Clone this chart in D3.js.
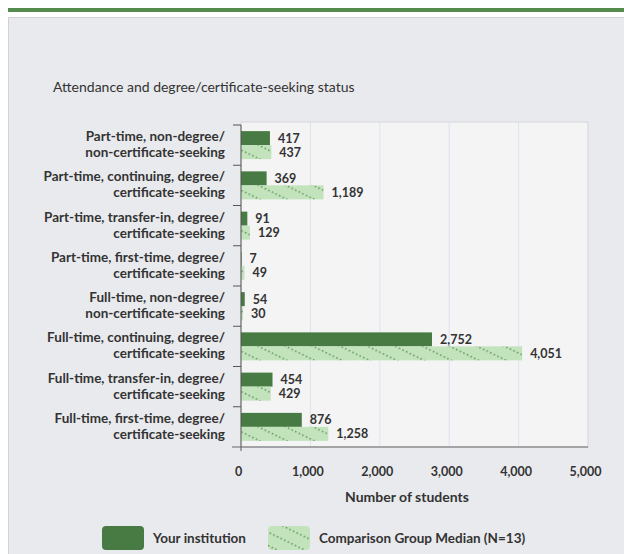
<!DOCTYPE html>
<html>
<head>
<meta charset="utf-8">
<script src="https://cdn.jsdelivr.net/npm/d3@7"></script>
<style>
  body { margin: 0; background: #fff; }
  svg text { font-family: Lato, "Open Sans", sans-serif; fill: #333; }
</style>
</head>
<body>
<svg width="624" height="554"></svg>
<script>
const categories = [
    ['Part-time, non-degree/', 'non-certificate-seeking'],
    ['Part-time, continuing, degree/', 'certificate-seeking'],
    ['Part-time, transfer-in, degree/', 'certificate-seeking'],
    ['Part-time, first-time, degree/', 'certificate-seeking'],
    ['Full-time, non-degree/', 'non-certificate-seeking'],
    ['Full-time, continuing, degree/', 'certificate-seeking'],
    ['Full-time, transfer-in, degree/', 'certificate-seeking'],
    ['Full-time, first-time, degree/', 'certificate-seeking']
];
const institution = [417, 369, 91, 7, 54, 2752, 454, 876];
const comparison = [437, 1189, 129, 49, 30, 4051, 429, 1258];
const xTicks = [0, 1000, 2000, 3000, 4000, 5000];
const seriesNames = ['Your institution', 'Comparison Group Median (N=13)'];

const svg = d3.select('svg');

// top rule + panel
svg.append('rect').attr('x', 8).attr('y', 8).attr('width', 616).attr('height', 4).attr('fill', '#558b4f');
svg.append('rect').attr('x', 8.5).attr('y', 17.5).attr('width', 630).attr('height', 550)
    .attr('fill', '#e9eaee').attr('stroke', '#d2d3d6');

const defs = svg.append('defs');
const pat = defs.append('pattern')
    .attr('id', 'hatch')
    .attr('patternUnits', 'userSpaceOnUse')
    .attr('width', 24).attr('height', 12)
    .attr('patternTransform', 'rotate(26)');
pat.append('rect').attr('width', 24).attr('height', 12).attr('fill', '#c3e3bd');
d3.range(0, 24, 4).forEach(x => {
    pat.append('rect').attr('x', x).attr('y', 0).attr('width', 1.5).attr('height', 1.5).attr('fill', '#5a9553');
});

svg.append('text')
    .attr('x', 53).attr('y', 92)
    .style('font-size', '14px')
    .text('Attendance and degree/certificate-seeking status');

const plot = { left: 241, right: 588, top: 122, bottom: 447 };

const x = d3.scaleLinear().domain([0, 5000]).range([plot.left, plot.right]);
const y = d3.scaleBand().domain(d3.range(categories.length)).range([plot.top + 3, plot.bottom]);

svg.append('rect')
    .attr('x', plot.left).attr('y', plot.top)
    .attr('width', plot.right - plot.left).attr('height', plot.bottom - plot.top)
    .attr('fill', '#f4f4f5').attr('stroke', '#d4d5d8');

// grid lines
svg.append('g').selectAll('line')
    .data(xTicks.slice(1, -1))
    .join('line')
    .attr('x1', d => x(d)).attr('x2', d => x(d))
    .attr('y1', plot.top).attr('y2', plot.bottom)
    .attr('stroke', '#dde3ee');

const barH = 14;
const inner = y.bandwidth() / 2 - barH;

const groups = svg.append('g').selectAll('g')
    .data(categories.map((c, i) => ({ c, i, a: institution[i], b: comparison[i] })))
    .join('g')
    .attr('transform', d => `translate(0,${y(d.i)})`);

groups.append('rect')
    .attr('x', x(0)).attr('y', inner)
    .attr('width', d => x(d.a) - x(0)).attr('height', barH)
    .attr('fill', '#487a43');
groups.append('rect')
    .attr('x', x(0)).attr('y', inner + barH)
    .attr('width', d => x(d.b) - x(0)).attr('height', barH)
    .attr('fill', 'url(#hatch)');

groups.append('text')
    .attr('x', d => x(d.a) + 8).attr('y', inner + barH / 2 + 4.5)
    .style('font-size', '12.5px').style('font-weight', 'bold')
    .text(d => d3.format(',')(d.a));
groups.append('text')
    .attr('x', d => x(d.b) + 8).attr('y', inner + barH * 1.5 + 4.5)
    .style('font-size', '12.5px').style('font-weight', 'bold')
    .text(d => d3.format(',')(d.b));

// category labels
groups.append('text')
    .attr('text-anchor', 'end')
    .style('font-size', '13.5px').style('font-weight', 'bold')
    .selectAll('tspan')
    .data(d => d.c)
    .join('tspan')
    .attr('x', 225)
    .attr('y', (d, k) => y.bandwidth() / 2 - 4 + k * 16)
    .text(d => d);

// y axis with category separators
const yAxisG = svg.append('g').attr('transform', `translate(${plot.left},0)`);
yAxisG.append('line').attr('x1', 0).attr('x2', 0).attr('y1', plot.top + 3).attr('y2', plot.bottom + 4).attr('stroke', '#555');
yAxisG.selectAll('line.sep')
    .data(d3.range(categories.length))
    .join('line')
    .attr('class', 'sep')
    .attr('x1', -8).attr('x2', 0)
    .attr('y1', d => y(d)).attr('y2', d => y(d))
    .attr('stroke', '#555');

// x axis
const xAxis = d3.axisBottom(x)
    .tickValues(xTicks)
    .tickSize(0)
    .tickPadding(20)
    .tickFormat(d3.format(','));
const xAxisG = svg.append('g').attr('transform', `translate(0,${plot.bottom})`).call(xAxis);
xAxisG.select('.domain').remove();
xAxisG.append('line').attr('x1', 232).attr('x2', plot.right).attr('y1', 0).attr('y2', 0).attr('stroke', '#666');
xAxisG.selectAll('.tick text')
    .attr('dx', -3)
    .style('font-size', '12.5px').style('font-weight', 'bold').style('fill', '#333');

svg.append('text')
    .attr('x', 407).attr('y', 502)
    .attr('text-anchor', 'middle')
    .style('font-size', '14px').style('font-weight', 'bold')
    .text('Number of students');

// legend
const legend = [
    { name: seriesNames[0], fill: '#487a43', sx: 102, tx: 153 },
    { name: seriesNames[1], fill: 'url(#hatch)', sx: 268, tx: 319 }
];
const lg = svg.append('g').selectAll('g').data(legend).join('g');
lg.append('rect')
    .attr('x', d => d.sx).attr('y', 526)
    .attr('width', 42).attr('height', 24).attr('rx', 4)
    .attr('fill', d => d.fill);
lg.append('text')
    .attr('x', d => d.tx).attr('y', 543)
    .style('font-size', '13.5px').style('font-weight', 'bold')
    .text(d => d.name);
</script>
</body>
</html>
